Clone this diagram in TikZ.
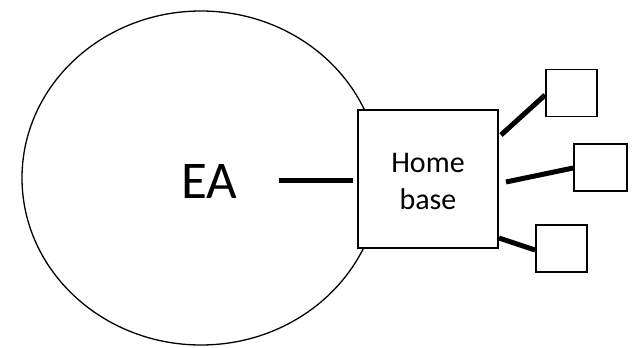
\documentclass[tikz,border=0pt]{standalone}
\usepackage{fontspec}
\setmainfont{Carlito}
\usetikzlibrary{shapes.geometric}
\begin{document}
\begin{tikzpicture}[x=1pt,y=-1pt,
  box/.style={draw,line width=1.8pt,fill=white,inner sep=0pt},
  conn/.style={line width=5pt}]
\useasboundingbox (0,0) rectangle (635,348);
\node[draw,ellipse,line width=1.3pt,minimum width=358pt,minimum height=334pt,inner sep=0pt] (ea) at (201,178) {};
\node[font=\fontsize{53}{53}\selectfont] (eatext) at (209,181) {EA};
\node[box,minimum width=140pt,minimum height=138pt] (home) at (428,179) {};
\node[font=\fontsize{30}{37}\selectfont,align=center] (hometext) at (428,181) {Home\\base};
\node[box,minimum width=51pt,minimum height=47pt] (b1) at (571.5,93) {};
\node[box,minimum width=53pt,minimum height=47pt] (b2) at (600.5,167.5) {};
\node[box,minimum width=51pt,minimum height=47pt] (b3) at (561.5,248.5) {};
\coordinate (e1) at (279,180);
\coordinate (e2) at (353,180);
\draw[conn] (e1) -- (e2);
\draw[conn] (501,135) -- (b1.west |- 0,95);
\draw[conn] (506,182) -- (b2.west |- 0,168);
\draw[conn] (499,238) -- (b3.west |- 0,250);
\end{tikzpicture}
\end{document}
